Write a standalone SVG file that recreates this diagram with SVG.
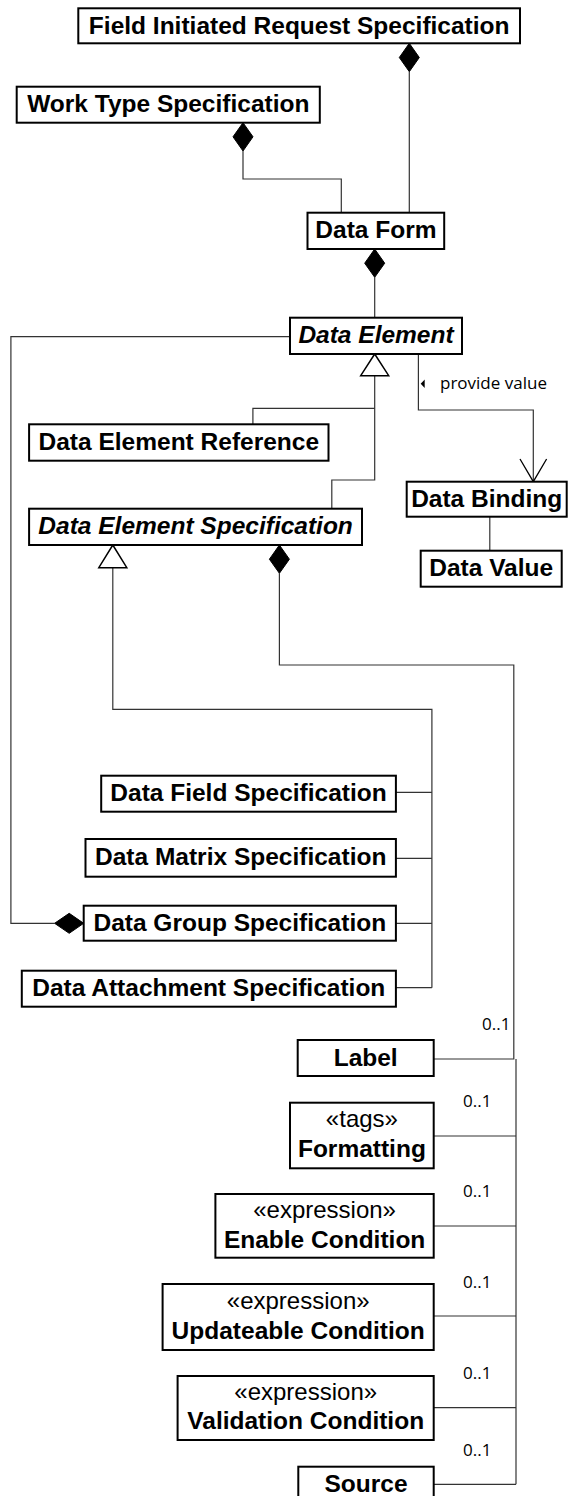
<svg xmlns="http://www.w3.org/2000/svg" width="571" height="1496" viewBox="0 0 571 1496">
  <style>
    .box { fill: #ffffff; stroke: #000000; stroke-width: 2; }
    .name { font-family: "Liberation Sans", Arial, sans-serif; font-size: 24.5px; font-weight: bold; fill: #000000; text-anchor: middle; }
    .abstract { font-style: italic; }
    .stereo { font-family: "Liberation Sans", Arial, sans-serif; font-size: 24px; fill: #000000; text-anchor: middle; }
    .note { font-family: "Open Sans", "Noto Sans", sans-serif; font-size: 17px; fill: #000000; }
    .line { fill: none; stroke: #333333; stroke-width: 1.2; }
    .comp { fill: #000000; stroke: #000000; stroke-width: 1; }
    .gen { fill: #ffffff; stroke: #000000; stroke-width: 1.5; }
    .open { fill: none; stroke: #000000; stroke-width: 1.3; }
  </style>

  <!-- connectors -->
  <g id="connectors">
    <!-- Field Initiated Request Specification owns Data Form -->
    <path class="line" d="M409.3 71.7 V212.7"/>
    <polygon class="comp" points="409.3,43.3 419.3,57.5 409.3,71.7 399.3,57.5"/>
    <!-- Work Type Specification owns Data Form -->
    <path class="line" d="M243 151 V179 H341.3 V212.7"/>
    <polygon class="comp" points="243,122.7 253,136.8 243,151 233,136.8"/>
    <!-- Data Form owns Data Element -->
    <path class="line" d="M374.7 277.3 V317.7"/>
    <polygon class="comp" points="374.7,249 384.7,263.2 374.7,277.3 364.7,263.2"/>
    <!-- Data Element generalization tree -->
    <path class="line" d="M374.7 375.7 V480 H331.8 V508.7"/>
    <path class="line" d="M374.7 408.3 H252.9 V424.3"/>
    <polygon class="gen" points="374.7,354 388.7,375.7 360.7,375.7"/>
    <!-- provide value -->
    <path class="line" d="M418.4 354 V410 H533.3 V481.7"/>
    <polyline class="open" points="520,459 533.3,481.7 546.6,459"/>
    <polygon fill="#000000" points="420.7,383.7 424.7,379.5 424.7,388"/>
    <text class="note" x="440" y="389.3">provide value</text>
    <!-- Data Binding to Data Value -->
    <path class="line" d="M489.8 516.7 V550.7"/>
    <!-- Data Element Specification generalization tree -->
    <path class="line" d="M112.8 567.7 V709.3 H431.9 V987.7"/>
    <path class="line" d="M395.9 792.3 H431.9"/>
    <path class="line" d="M395.9 858.3 H431.9"/>
    <path class="line" d="M395.9 923.3 H431.9"/>
    <path class="line" d="M395.9 987.7 H431.9"/>
    <polygon class="gen" points="112.8,545 126.8,567.7 98.8,567.7"/>
    <!-- Data Group Specification owns Data Element -->
    <path class="line" d="M290 336.7 H10.9 V923.3 H54.6"/>
    <polygon class="comp" points="54.6,923.3 69.2,913.3 83.7,923.3 69.2,933.3"/>
    <!-- Data Element Specification owns its parts -->
    <path class="line" d="M279.4 573.3 V665 H513.8 V1059 H433.7"/>
    <polygon class="comp" points="279.4,545 289.4,559.2 279.4,573.3 269.4,559.2"/>
    <path class="line" d="M516 1059 V1484.3"/>
    <path class="line" d="M433.7 1136 H516"/>
    <path class="line" d="M433.7 1226 H516"/>
    <path class="line" d="M433.7 1316 H516"/>
    <path class="line" d="M433.7 1407.7 H516"/>
    <path class="line" d="M433.7 1484.3 H516"/>
    <text class="note" x="482" y="1030">0..1</text>
    <text class="note" x="463" y="1106.7">0..1</text>
    <text class="note" x="463" y="1196.7">0..1</text>
    <text class="note" x="463" y="1287.7">0..1</text>
    <text class="note" x="463" y="1379">0..1</text>
    <text class="note" x="463" y="1455.7">0..1</text>
  </g>

  <g id="field-initiated-request-specification">
    <rect class="box" x="78.3" y="8.3" width="441.7" height="35"/>
    <text class="name" x="299.2" y="34">Field Initiated Request Specification</text>
  </g>
  <g id="work-type-specification">
    <rect class="box" x="16.7" y="86.7" width="303.1" height="36"/>
    <text class="name" x="168.3" y="112.3">Work Type Specification</text>
  </g>
  <g id="data-form">
    <rect class="box" x="307.5" y="212.7" width="136.7" height="36.3"/>
    <text class="name" x="375.9" y="237.8">Data Form</text>
  </g>
  <g id="data-element">
    <rect class="box" x="290" y="317.7" width="172" height="36.3"/>
    <text class="name abstract" x="376" y="343">Data Element</text>
  </g>
  <g id="data-element-reference">
    <rect class="box" x="29.1" y="424.3" width="299.4" height="36.4"/>
    <text class="name" x="178.8" y="449.8">Data Element Reference</text>
  </g>
  <g id="data-element-specification">
    <rect class="box" x="29.1" y="508.7" width="332.9" height="36.3"/>
    <text class="name abstract" x="195.6" y="534">Data Element Specification</text>
  </g>
  <g id="data-binding">
    <rect class="box" x="406.7" y="481.7" width="160" height="35"/>
    <text class="name" x="486.7" y="507">Data Binding</text>
  </g>
  <g id="data-value">
    <rect class="box" x="420.7" y="550.7" width="141" height="36"/>
    <text class="name" x="491.2" y="576">Data Value</text>
  </g>
  <g id="data-field-specification">
    <rect class="box" x="101.2" y="775.7" width="294.7" height="36"/>
    <text class="name" x="248.5" y="801">Data Field Specification</text>
  </g>
  <g id="data-matrix-specification">
    <rect class="box" x="85.5" y="839" width="310.4" height="37.7"/>
    <text class="name" x="240.7" y="865">Data Matrix Specification</text>
  </g>
  <g id="data-group-specification">
    <rect class="box" x="83.7" y="905.7" width="312.2" height="35"/>
    <text class="name" x="239.8" y="931">Data Group Specification</text>
  </g>
  <g id="data-attachment-specification">
    <rect class="box" x="21.8" y="970.7" width="374.1" height="36"/>
    <text class="name" x="208.8" y="996">Data Attachment Specification</text>
  </g>
  <g id="label">
    <rect class="box" x="297.7" y="1040" width="136" height="36"/>
    <text class="name" x="365.7" y="1065.5">Label</text>
  </g>
  <g id="formatting">
    <rect class="box" x="290" y="1102.7" width="143.7" height="65.6"/>
    <text class="stereo" x="361.9" y="1126.7">«tags»</text>
    <text class="name" x="361.9" y="1156.7">Formatting</text>
  </g>
  <g id="enable-condition">
    <rect class="box" x="215.4" y="1194" width="218.3" height="63.7"/>
    <text class="stereo" x="324.6" y="1218.3">«expression»</text>
    <text class="name" x="324.6" y="1248.3">Enable Condition</text>
  </g>
  <g id="updateable-condition">
    <rect class="box" x="162.6" y="1284" width="271.1" height="66"/>
    <text class="stereo" x="298.2" y="1308.5">«expression»</text>
    <text class="name" x="298.2" y="1339.3">Updateable Condition</text>
  </g>
  <g id="validation-condition">
    <rect class="box" x="177.6" y="1376" width="256.1" height="64"/>
    <text class="stereo" x="305.7" y="1400">«expression»</text>
    <text class="name" x="305.7" y="1429.3">Validation Condition</text>
  </g>
  <g id="source">
    <rect class="box" x="298.3" y="1466.7" width="135.4" height="36"/>
    <text class="name" x="366" y="1492">Source</text>
  </g>
</svg>
